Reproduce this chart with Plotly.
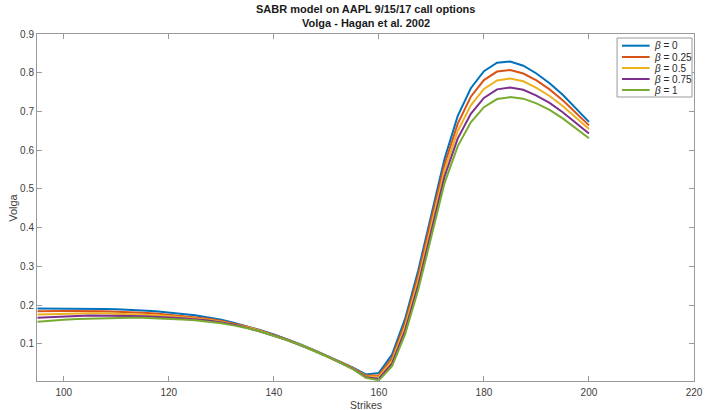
import plotly.graph_objects as go

strikes = [95 + 2.5 * i for i in range(43)]

volga_b0 = [0.191, 0.191, 0.191, 0.191, 0.190, 0.190, 0.189, 0.188, 0.186, 0.184,
            0.181, 0.178, 0.174, 0.168, 0.162, 0.154, 0.145, 0.135, 0.124, 0.112,
            0.099, 0.085, 0.070, 0.055, 0.039, 0.021, 0.025, 0.072, 0.165, 0.290,
            0.435, 0.578, 0.688, 0.760, 0.804, 0.826, 0.829, 0.818, 0.798, 0.773,
            0.743, 0.709, 0.673]
volga_b025 = [0.184, 0.185, 0.185, 0.185, 0.185, 0.184, 0.183, 0.182, 0.180, 0.178,
              0.175, 0.172, 0.169, 0.165, 0.159, 0.152, 0.144, 0.134, 0.123, 0.111,
              0.098, 0.084, 0.069, 0.054, 0.038, 0.018, 0.019, 0.063, 0.155, 0.278,
              0.423, 0.563, 0.668, 0.738, 0.781, 0.803, 0.807, 0.798, 0.780, 0.757,
              0.729, 0.697, 0.664]
volga_b05 = [0.176, 0.177, 0.178, 0.179, 0.179, 0.179, 0.178, 0.177, 0.176, 0.174,
             0.172, 0.169, 0.166, 0.162, 0.157, 0.150, 0.143, 0.133, 0.122, 0.110,
             0.098, 0.084, 0.069, 0.053, 0.037, 0.016, 0.015, 0.056, 0.145, 0.265,
             0.409, 0.548, 0.649, 0.716, 0.758, 0.780, 0.785, 0.778, 0.761, 0.740,
             0.714, 0.685, 0.655]
volga_b075 = [0.167, 0.169, 0.171, 0.172, 0.173, 0.173, 0.173, 0.172, 0.171, 0.170,
              0.168, 0.166, 0.163, 0.160, 0.155, 0.149, 0.141, 0.132, 0.121, 0.110,
              0.097, 0.083, 0.068, 0.053, 0.036, 0.014, 0.010, 0.049, 0.135, 0.252,
              0.395, 0.532, 0.630, 0.694, 0.735, 0.757, 0.762, 0.756, 0.741, 0.722,
              0.698, 0.671, 0.643]
volga_b1 = [0.157, 0.160, 0.162, 0.164, 0.165, 0.166, 0.167, 0.167, 0.167, 0.166,
            0.165, 0.163, 0.161, 0.157, 0.153, 0.147, 0.140, 0.131, 0.121, 0.110,
            0.097, 0.083, 0.068, 0.052, 0.035, 0.012, 0.006, 0.042, 0.125, 0.240,
            0.380, 0.515, 0.610, 0.672, 0.711, 0.732, 0.737, 0.733, 0.721, 0.704,
            0.682, 0.657, 0.631]

series = [volga_b0, volga_b025, volga_b05, volga_b075, volga_b1]
beta_labels = ["0", "0.25", "0.5", "0.75", "1"]
colors = ["#0072BD", "#D95319", "#EDB120", "#7E2F8E", "#77AC30"]

x_ticks = [100, 120, 140, 160, 180, 200, 220]
y_ticks = [0.1, 0.2, 0.3, 0.4, 0.5, 0.6, 0.7, 0.8, 0.9]

title_lines = ["SABR model on AAPL 9/15/17 call options", "Volga - Hagan et al. 2002"]

W, H = 714, 410
L, R, T, B = 37, 703, 34, 381  # plot area in pixels
FONT = "Liberation Sans, Arial, Helvetica, sans-serif"


def px(xp):
    return (xp - L) / (R - L)


def py(yp):
    return (B - yp) / (B - T)


fig = go.Figure()
for vals, lab, col in zip(series, beta_labels, colors):
    fig.add_trace(go.Scatter(x=strikes, y=vals, mode="lines",
                             line=dict(color=col, width=2),
                             name="β = " + lab, showlegend=False))

axis_common = dict(showline=True, linecolor="#9a9a9a", linewidth=1, mirror="ticks",
                   ticks="inside", ticklen=5, tickcolor="#9a9a9a", showgrid=False,
                   zeroline=False, tickfont=dict(family=FONT, size=10, color="#404040"))

fig.update_layout(
    width=W, height=H,
    margin=dict(l=L, r=W - R, t=T, b=H - B),
    paper_bgcolor="white", plot_bgcolor="white",
    font=dict(family=FONT),
    xaxis=dict(range=[94.9, 220], tickvals=x_ticks, ticklabelstandoff=2, **axis_common),
    yaxis=dict(range=[0.004, 0.9], tickvals=y_ticks, **axis_common),
    showlegend=False,
)

# title lines
for txt, yy in zip(title_lines, [9, 23]):
    fig.add_annotation(text="<b>" + txt + "</b>", x=0.5, y=py(yy), xref="paper", yref="paper",
                       showarrow=False, xanchor="center", yanchor="middle",
                       font=dict(family=FONT, size=11, color="#1a1a1a"))

# axis titles
fig.add_annotation(text="Strikes", x=0.5, y=py(405), xref="paper", yref="paper",
                   showarrow=False, font=dict(family=FONT, size=10.5, color="#404040"),
                   xanchor="center", yanchor="middle")
fig.add_annotation(text="Volga", x=px(12), y=0.5, xref="paper", yref="paper",
                   showarrow=False, textangle=-90, font=dict(family=FONT, size=11, color="#404040"),
                   xanchor="center", yanchor="middle")

# legend box
fig.add_shape(type="rect", xref="paper", yref="paper",
              x0=px(625), x1=px(701), y0=py(97), y1=py(38),
              line=dict(color="#9a9a9a", width=1), fillcolor="white", layer="above")
entry_y = [45.7, 57, 68, 79, 90]
for yy, lab, col in zip(entry_y, beta_labels, colors):
    fig.add_shape(type="line", xref="paper", yref="paper",
                  x0=px(630), x1=px(658), y0=py(yy), y1=py(yy),
                  line=dict(color=col, width=2), layer="above")
    fig.add_annotation(text="<i>β</i> = " + lab, x=px(660), y=py(yy), xref="paper", yref="paper",
                       showarrow=False, xanchor="left", yanchor="middle",
                       font=dict(family=FONT, size=10, color="#262626"))

fig.write_html("out.html")
